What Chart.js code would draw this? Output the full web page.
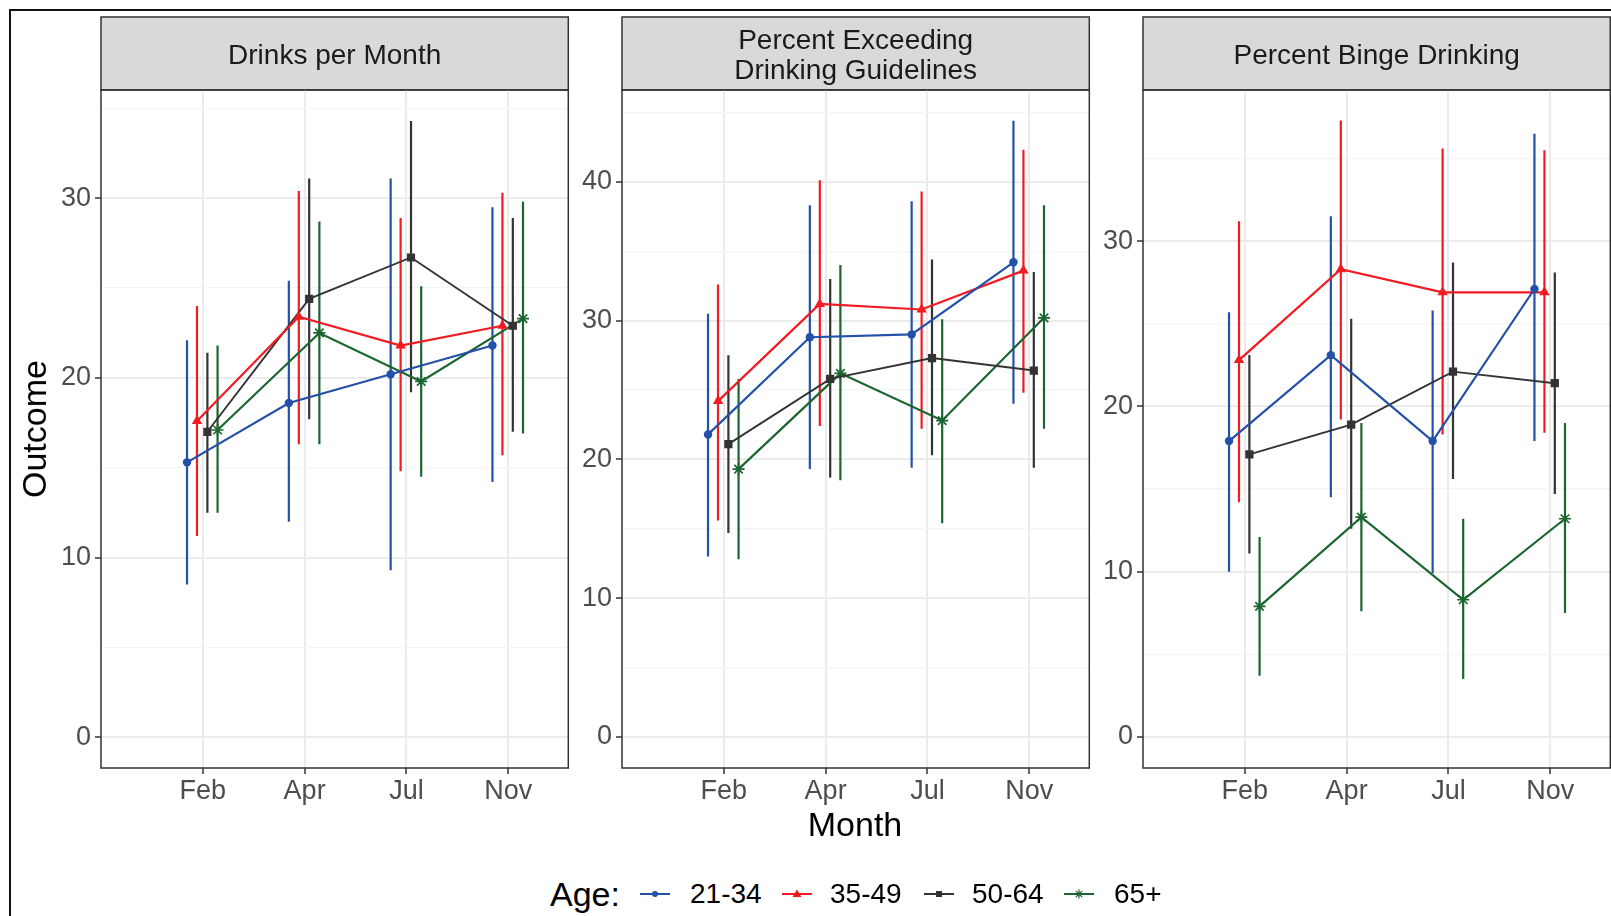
<!DOCTYPE html>
<html>
<head>
<meta charset="utf-8">
<script src="https://cdn.jsdelivr.net/npm/chart.js@4.4.1/dist/chart.umd.min.js"></script>
<style>
  body { margin: 0; background: #fff; width: 1611px; height: 916px; overflow: hidden; position: relative;
         font-family: 'Liberation Sans', Arial, sans-serif; }
  #frame { position: absolute; left: 9px; top: 9px; width: 1640px; height: 950px;
           border-left: 2px solid #111; border-top: 2px solid #111; }
  canvas { position: absolute; top: 16px; }
  .txt { position: absolute; white-space: nowrap; color: #000; line-height: 1; }
  .key { position: absolute; }
</style>
</head>
<body>
<div id="frame"></div>
<canvas id="c1" width="545" height="810" style="left:31px"></canvas>
<canvas id="c2" width="545" height="810" style="left:552px"></canvas>
<canvas id="c3" width="545" height="810" style="left:1073px"></canvas>
<div class="txt" style="left:34px; top:429px; font-size:34px; transform: translate(-50%,-50%) rotate(-90deg);">Outcome</div>
<div class="txt" style="left:855px; top:824px; font-size:34px; transform: translate(-50%,-50%);">Month</div>
<div id="legend"></div>
<script>
// survey months and age groups
const months = ['Feb', 'Apr', 'Jul', 'Nov'];
const ageGroups = ['21-34', '35-49', '50-64', '65+'];

// Drinks per Month: one row per age group
const drinksMean = [
  [15.3, 18.6, 20.2, 21.8],
  [17.6, 23.4, 21.8, 22.9],
  [17.0, 24.4, 26.7, 22.9],
  [17.1, 22.5, 19.8, 23.3]
];
const drinksLow = [
  [8.5, 12.0, 9.3, 14.2],
  [11.2, 16.3, 14.8, 15.7],
  [12.5, 17.7, 19.2, 17.0],
  [12.5, 16.3, 14.5, 16.9]
];
const drinksHigh = [
  [22.1, 25.4, 31.1, 29.5],
  [24.0, 30.4, 28.9, 30.3],
  [21.4, 31.1, 34.3, 28.9],
  [21.8, 28.7, 25.1, 29.8]
];

// Percent Exceeding Drinking Guidelines
const exceedMean = [
  [21.8, 28.8, 29.0, 34.2],
  [24.2, 31.2, 30.8, 33.6],
  [21.1, 25.8, 27.3, 26.4],
  [19.3, 26.2, 22.8, 30.2]
];
const exceedLow = [
  [13.0, 19.3, 19.4, 24.0],
  [15.6, 22.4, 22.2, 24.8],
  [14.7, 18.7, 20.3, 19.4],
  [12.8, 18.5, 15.4, 22.2]
];
const exceedHigh = [
  [30.5, 38.3, 38.6, 44.4],
  [32.6, 40.1, 39.3, 42.3],
  [27.5, 33.0, 34.4, 33.5],
  [25.8, 34.0, 30.1, 38.3]
];

// Percent Binge Drinking
const bingeMean = [
  [17.9, 23.1, 17.9, 27.1],
  [22.8, 28.3, 26.9, 26.9],
  [17.1, 18.9, 22.1, 21.4],
  [7.9, 13.3, 8.3, 13.2]
];
const bingeLow = [
  [10.0, 14.5, 9.9, 17.9],
  [14.2, 19.2, 18.3, 18.4],
  [11.1, 12.6, 15.6, 14.7],
  [3.7, 7.6, 3.5, 7.5]
];
const bingeHigh = [
  [25.7, 31.5, 25.8, 36.5],
  [31.2, 37.3, 35.6, 35.5],
  [23.1, 25.3, 28.7, 28.1],
  [12.1, 19.0, 13.2, 19.0]
];

const colors = ['#2350A8', '#F21B22', '#333333', '#1B6630'];
const shapes = ['circle', 'triangle', 'rect', 'star'];
const radii = [4.2, 6, 5.8, 6];
const dodge = [-0.155, -0.057, 0.045, 0.145];
const FONT = "'Liberation Sans', Arial, sans-serif";

Chart.defaults.font.family = FONT;

const panelDeco = {
  id: 'panelDeco',
  beforeDraw(chart, args, opts) {
    const { ctx, chartArea: a } = chart;
    ctx.save();
    ctx.fillStyle = '#D9D9D9';
    ctx.fillRect(a.left, 1, a.right - a.left, a.top - 1);
    ctx.strokeStyle = '#333';
    ctx.lineWidth = 1.5;
    ctx.strokeRect(a.left, 1, a.right - a.left, a.top - 1);
    ctx.fillStyle = '#1A1A1A';
    ctx.font = '28px ' + FONT;
    ctx.textAlign = 'center';
    ctx.textBaseline = 'middle';
    const cx = (a.left + a.right) / 2, cy = (a.top + 1) / 2 + 3;
    opts.lines.forEach((t, k) => {
      ctx.fillText(t, cx, cy + (k - (opts.lines.length - 1) / 2) * 30);
    });
    ctx.restore();
  },
  afterDraw(chart) {
    const { ctx, chartArea: a } = chart;
    ctx.save();
    ctx.strokeStyle = '#333';
    ctx.lineWidth = 1.5;
    ctx.strokeRect(a.left, a.top, a.right - a.left, a.bottom - a.top);
    ctx.restore();
  }
};

function buildDatasets(mean, low, high) {
  const sets = [];
  ageGroups.forEach((g, i) => {
    const xs = months.map((m, j) => j + 1 + dodge[i]);
    const bars = [];
    xs.forEach((x, j) => {
      bars.push({ x, y: low[i][j] }, { x, y: high[i][j] }, { x, y: null });
    });
    sets.push({
      label: g + ' interval', data: bars, borderColor: colors[i], borderWidth: 2.2,
      pointRadius: 0, spanGaps: false, order: 2
    });
    sets.push({
      label: g, data: xs.map((x, j) => ({ x, y: mean[i][j] })),
      borderColor: colors[i], backgroundColor: colors[i], borderWidth: i === 2 ? 1.9 : 2.2,
      pointStyle: shapes[i], pointRadius: radii[i], pointHoverRadius: radii[i],
      pointBackgroundColor: colors[i], pointBorderColor: colors[i],
      pointBorderWidth: i === 3 ? 1.7 : 0, tension: 0, order: 1
    });
  });
  return sets;
}

function makePanel(id, lines, mean, low, high, yMin, yMax, yTop) {
  const yTicks = [];
  for (let v = 0; v <= yTop; v += 5) yTicks.push(v);
  new Chart(document.getElementById(id), {
    type: 'line',
    data: { datasets: buildDatasets(mean, low, high) },
    options: {
      responsive: false, animation: false, devicePixelRatio: 1,
      layout: { padding: { top: 74, right: 2, bottom: 18, left: 0 } },
      plugins: { legend: { display: false }, tooltip: { enabled: false }, panelDeco: { lines } },
      scales: {
        x: {
          type: 'linear', min: 0, max: 4.59,
          afterBuildTicks: s => { s.ticks = months.map((m, j) => ({ value: j + 1 })); },
          afterFit: s => { s.height = 40; },
          ticks: { callback: v => months[v - 1], color: '#4D4D4D', font: { size: 27 }, padding: 1,
                   autoSkip: false, maxRotation: 0 },
          grid: { color: '#EBEBEB', lineWidth: 2, tickLength: 6, tickColor: '#333', tickWidth: 1.5 },
          border: { display: false }
        },
        y: {
          min: yMin, max: yMax,
          afterBuildTicks: s => { s.ticks = yTicks.map(v => ({ value: v })); },
          afterFit: s => { s.width = 70; },
          ticks: { callback: v => (v % 10 === 0 ? String(v) : ''), color: '#4D4D4D', font: { size: 27 }, padding: 4 },
          grid: {
            color: c => (c.tick && c.tick.value % 10 === 0 ? '#EBEBEB' : '#F4F4F4'),
            lineWidth: c => (c.tick && c.tick.value % 10 === 0 ? 2 : 1.2),
            tickColor: c => (c.tick && c.tick.value % 10 === 0 ? '#333' : 'rgba(0,0,0,0)'),
            tickLength: 6, tickWidth: 1.5
          },
          border: { display: false }
        }
      }
    },
    plugins: [panelDeco]
  });
}

makePanel('c1', ['Drinks per Month'], drinksMean, drinksLow, drinksHigh, -1.71, 36.02, 35);
makePanel('c2', ['Percent Exceeding', 'Drinking Guidelines'], exceedMean, exceedLow, exceedHigh, -2.23, 46.61, 45);
makePanel('c3', ['Percent Binge Drinking'], bingeMean, bingeLow, bingeHigh, -1.88, 39.14, 35);

// legend: "Age:" title then line+marker keys
const legend = document.getElementById('legend');
const keyX = [655, 797, 939, 1079];
const labelX = [690, 830, 972, 1114];
const legendY = 894;
legend.innerHTML = `<div class="txt" style="left:550px; top:${legendY}px; font-size:34px; transform: translateY(-50%);">Age:</div>`;
ageGroups.forEach((g, i) => {
  const c = colors[i];
  let marker = '';
  if (i === 0) marker = `<circle cx="15" cy="7" r="3" fill="${c}"/>`;
  if (i === 1) marker = `<polygon points="15,2.5 19.5,10 10.5,10" fill="${c}"/>`;
  if (i === 2) marker = `<rect x="12" y="4" width="6" height="6" fill="${c}"/>`;
  if (i === 3) marker = `<path d="M15 2.5V11.5M10.5 7H19.5M11.8 3.8L18.2 10.2M18.2 3.8L11.8 10.2" stroke="${c}" stroke-width="1.2"/>`;
  legend.innerHTML += `<svg class="key" width="30" height="14" style="left:${keyX[i] - 15}px; top:${legendY - 7}px">
    <line x1="0" y1="7" x2="30" y2="7" stroke="${c}" stroke-width="2"/>${marker}</svg>`;
  legend.innerHTML += `<div class="txt" style="left:${labelX[i]}px; top:${legendY}px; font-size:28px; transform: translateY(-50%);">${g}</div>`;
});
</script>
</body>
</html>
